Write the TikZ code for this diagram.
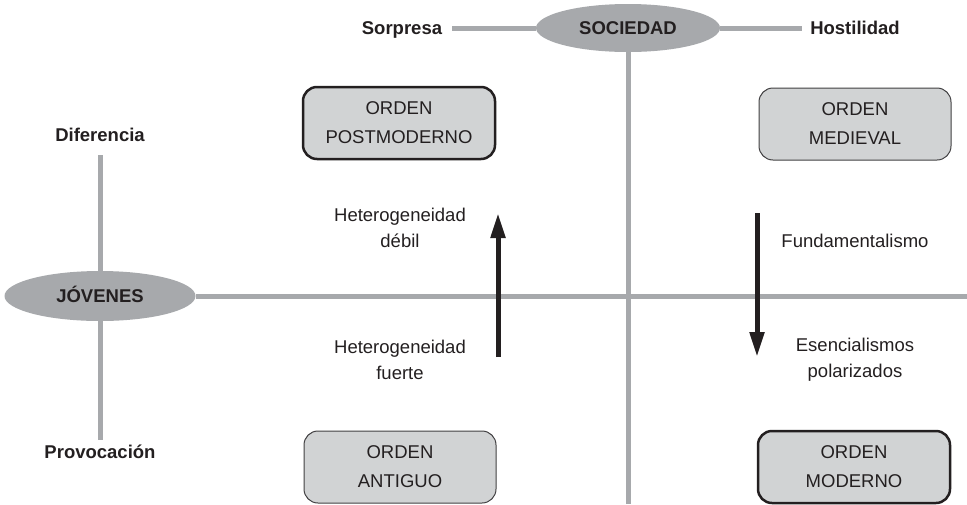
\documentclass[tikz,border=0pt]{standalone}
\usepackage{fontspec}
\setmainfont{Liberation Sans}
\usetikzlibrary{shapes.geometric,arrows.meta}
\definecolor{axisgray}{HTML}{A7A9AC}
\definecolor{boxgray}{HTML}{D1D3D4}
\definecolor{ink}{HTML}{231F20}
\definecolor{thinedge}{HTML}{414042}
\begin{document}
\begin{tikzpicture}[x=1pt,y=-1pt,
 axis/.style={draw=axisgray,line width=5pt},
 hub/.style={ellipse,fill=axisgray,inner sep=0pt,text height=13.3pt,text depth=0pt,font=\bfseries\fontsize{18.5}{22}\selectfont,text=ink},
 pole/.style={inner sep=0pt,text height=13.3pt,text depth=0pt,font=\bfseries\fontsize{18.5}{22}\selectfont,text=ink},
 orderbox/.style={rounded corners=14pt,fill=boxgray,minimum width=192pt,minimum height=72pt,align=center,font=\fontsize{18.5}{29}\selectfont,text=ink},
 strong/.style={orderbox,draw=ink,line width=2.5pt},
 weak/.style={orderbox,draw=thinedge,line width=1pt},
 note/.style={align=center,font=\fontsize{18.5}{26}\selectfont,text=ink,inner sep=0pt},
 flow/.style={draw=ink,line width=5pt,-{Triangle[length=25pt,width=14pt]}}
]
\useasboundingbox (0,0) rectangle (967,504);
% hubs and poles
\node[hub,minimum width=184pt,minimum height=48pt] (soc) at (628,28) {SOCIEDAD};
\node[hub,minimum width=191pt,minimum height=50pt] (jov) at (100,296) {JÓVENES};
\node[pole] (sor) at (402,28) {Sorpresa};
\node[pole] (hos) at (855,28) {Hostilidad};
\node[pole] (dif) at (100,135) {Diferencia};
\node[pole] (pro) at (100,452) {Provocación};
\coordinate (R) at (967,296);
\coordinate (B) at (628,504);
% axes
\draw[axis,shorten >=10pt] (soc) -- (sor);
\draw[axis,shorten >=8pt] (soc) -- (hos);
\draw[axis] (soc) -- (B);
\draw[axis,shorten >=13pt] (jov) -- (dif);
\draw[axis,shorten >=5pt] (jov) -- (pro);
\draw[axis] (jov) -- (R);
% boxes
\node[strong] (pm) at (399,123) {ORDEN\\POSTMODERNO};
\node[weak] (med) at (855,124) {ORDEN\\MEDIEVAL};
\node[weak] (ant) at (400,467) {ORDEN\\ANTIGUO};
\node[strong] (mod) at (854,467) {ORDEN\\MODERNO};
% arrows
\coordinate (u0) at (498,357);
\coordinate (u1) at (498,213);
\draw[flow] (u0) -- (u1);
\coordinate (d0) at (757,213);
\coordinate (d1) at (757,357);
\draw[flow] (d0) -- (d1);
% notes
\node[note] (hd) at (400,228) {Heterogeneidad\\débil};
\node[note] (hf) at (400,360) {Heterogeneidad\\fuerte};
\node[note] (fu) at (855,241) {Fundamentalismo};
\node[note] (es) at (855,360) {Esencialismos\\polarizados};
\end{tikzpicture}
\end{document}
